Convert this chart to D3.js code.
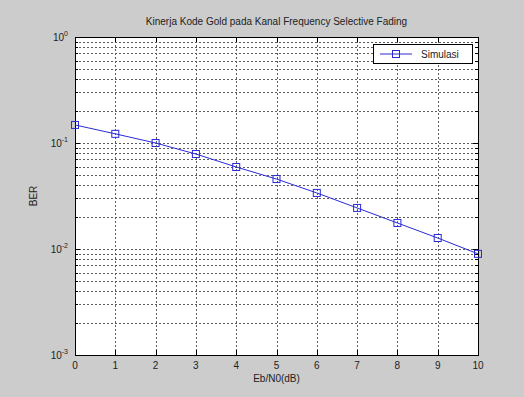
<!DOCTYPE html>
<html>
<head>
<meta charset="UTF-8" />
<script src="https://d3js.org/d3.v7.min.js"></script>
<style>
  body { margin: 0; background: #cccccc; }
  svg { display: block; font-family: "Liberation Sans", Arial, sans-serif; }
</style>
</head>
<body>
<div id="chart"></div>
<script>
// données
const ebno = [0, 1, 2, 3, 4, 5, 6, 7, 8, 9, 10];
const ber = [0.148, 0.122, 0.1, 0.0787, 0.0594, 0.0457, 0.0338, 0.0244, 0.0176, 0.0127, 0.0090];
const xTicks = [0, 1, 2, 3, 4, 5, 6, 7, 8, 9, 10];
const yDecades = [0, -1, -2, -3];
const seriesName = "Simulasi";

const W = 524, H = 397;
const m = { left: 75, right: 478, top: 37, bottom: 355 };

const svg = d3.select("#chart").append("svg")
  .attr("width", W).attr("height", H);

svg.append("rect").attr("width", W).attr("height", H).attr("fill", "#cccccc");

const x = d3.scaleLinear().domain([0, 10]).range([m.left, m.right]);
const y = d3.scaleLog().domain([1e-3, 1]).range([m.bottom, m.top]);

// zone des axes
svg.append("rect")
  .attr("x", m.left).attr("y", m.top)
  .attr("width", m.right - m.left).attr("height", m.bottom - m.top)
  .attr("fill", "#ffffff");

// grille (majeure + mineure en log)
const grid = svg.append("g").attr("stroke", "#333").attr("stroke-width", 1)
  .attr("stroke-dasharray", "2,2").attr("opacity", 0.8);

xTicks.slice(1, -1).forEach(t => {
  grid.append("line")
    .attr("x1", Math.round(x(t)) + 0.5).attr("x2", Math.round(x(t)) + 0.5)
    .attr("y1", m.top).attr("y2", m.bottom);
});

const yGrid = [];
for (let e = -3; e < 0; e++) {
  for (let k = 1; k <= 9; k++) {
    const v = k * Math.pow(10, e);
    if (v > 1e-3) yGrid.push(v);
  }
}
yGrid.forEach(v => {
  const yy = Math.round(y(v)) + 0.5;
  grid.append("line")
    .attr("x1", m.left).attr("x2", m.right)
    .attr("y1", yy).attr("y2", yy);
});

// graduations
const ticks = svg.append("g").attr("stroke", "#000").attr("stroke-width", 1);
xTicks.forEach(t => {
  const xx = Math.round(x(t)) + 0.5;
  ticks.append("line").attr("x1", xx).attr("x2", xx).attr("y1", m.bottom).attr("y2", m.bottom - 5);
  ticks.append("line").attr("x1", xx).attr("x2", xx).attr("y1", m.top).attr("y2", m.top + 5);
});
yGrid.concat([1e-3, 1]).forEach(v => {
  const yy = Math.round(y(v)) + 0.5;
  const len = Number.isInteger(Math.log10(v)) ? 5 : 3;
  ticks.append("line").attr("x1", m.left).attr("x2", m.left + len).attr("y1", yy).attr("y2", yy);
  ticks.append("line").attr("x1", m.right).attr("x2", m.right - len).attr("y1", yy).attr("y2", yy);
});

// cadre
svg.append("rect")
  .attr("x", m.left + 0.5).attr("y", m.top + 0.5)
  .attr("width", m.right - m.left).attr("height", m.bottom - m.top)
  .attr("fill", "none").attr("stroke", "#000");

// labels des ticks x
svg.append("g").selectAll("text").data(xTicks).join("text")
  .attr("x", d => x(d)).attr("y", 369)
  .attr("text-anchor", "middle").attr("font-size", 10).attr("fill", "#222")
  .text(d => d);

// labels des ticks y (10^n)
const yl = svg.append("g").attr("fill", "#222");
yDecades.forEach(e => {
  const t = yl.append("text")
    .attr("x", 68).attr("y", y(Math.pow(10, e)) + 4)
    .attr("text-anchor", "end").attr("font-size", 10);
  t.append("tspan").text("10");
  t.append("tspan").attr("dy", -5).attr("font-size", 7).text(e);
});

// courbe
svg.append("path")
  .datum(ebno.map((d, i) => [d, ber[i]]))
  .attr("fill", "none").attr("stroke", "#2a2ad8").attr("stroke-width", 1)
  .attr("d", d3.line().x(d => x(d[0])).y(d => y(d[1])));

svg.append("g").selectAll("rect").data(ebno).join("rect")
  .attr("x", (d) => x(d) - 3.5).attr("y", (d, i) => y(ber[i]) - 3.5)
  .attr("width", 7).attr("height", 7)
  .attr("fill", "none").attr("stroke", "#2a2ad8").attr("stroke-width", 1);

// légende
const lg = svg.append("g");
lg.append("rect").attr("x", 373.5).attr("y", 44.5).attr("width", 99).attr("height", 19)
  .attr("fill", "#ffffff").attr("stroke", "#000");
lg.append("line").attr("x1", 380).attr("x2", 412).attr("y1", 54).attr("y2", 54)
  .attr("stroke", "#2a2ad8");
lg.append("rect").attr("x", 392.5).attr("y", 50.5).attr("width", 7).attr("height", 7)
  .attr("fill", "none").attr("stroke", "#2a2ad8");
lg.append("text").attr("x", 421).attr("y", 58).attr("font-size", 10).attr("fill", "#222")
  .text(seriesName);

// titre et libellés
svg.append("text").attr("x", (m.left + m.right) / 2).attr("y", 25)
  .attr("text-anchor", "middle").attr("font-size", 10).attr("fill", "#222")
  .text("Kinerja Kode Gold pada Kanal Frequency Selective Fading");

svg.append("text").attr("x", (m.left + m.right) / 2).attr("y", 382)
  .attr("text-anchor", "middle").attr("font-size", 10).attr("fill", "#222")
  .text("Eb/N0(dB)");

svg.append("text")
  .attr("transform", `translate(37,${(m.top + m.bottom) / 2}) rotate(-90)`)
  .attr("text-anchor", "middle").attr("font-size", 10).attr("fill", "#222")
  .text("BER");
</script>
</body>
</html>
